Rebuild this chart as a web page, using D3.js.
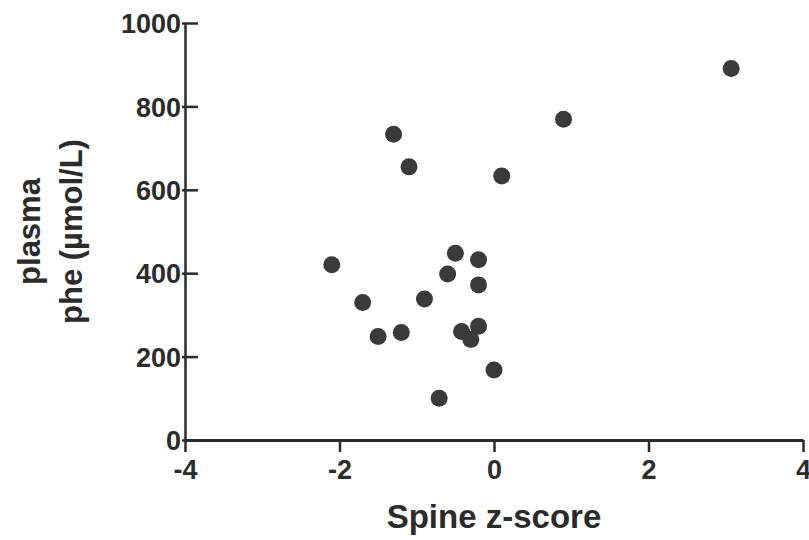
<!DOCTYPE html>
<html>
<head>
<meta charset="utf-8">
<script src="https://cdn.jsdelivr.net/npm/d3@7"></script>
<style>
  html, body { margin: 0; padding: 0; background: #fff; }
  svg text { font-family: "Liberation Sans", Arial, Helvetica, sans-serif; font-weight: bold; fill: #2b2b2b; }
</style>
</head>
<body>
<svg id="chart" width="809" height="540"></svg>
<script>
// Spine z-score vs plasma phenylalanine
const spineZ = [-2.1, -0.5, -0.2, -0.6, -0.2, -1.7, -0.9, -1.5, -1.2, -0.42, -0.2, -0.3, 0.0, -0.71, -1.3, -1.1, 0.1, 0.9, 3.07];
const plasmaPhe = [420, 448, 432, 398, 372, 330, 338, 248, 258, 260, 273, 241, 168, 100, 733, 655, 633, 769, 891];
const xTicks = [-4, -2, 0, 2, 4];
const yTicks = [0, 200, 400, 600, 800, 1000];
const xTitle = "Spine z-score";
const yTitleLines = ["plasma", "phe (µmol/L)"];

const svg = d3.select("#chart");
const ink = "#2b2b2b";
// plain hyphen for negative tick values
const fmt = d => String(d);

const x = d3.scaleLinear().domain([-4, 4]).range([185, 803]);
const y = d3.scaleLinear().domain([0, 1000]).range([440, 23]);

// y axis: ticks point into the plot
const yAxis = svg.append("g").attr("transform", `translate(${x(-4)},0)`)
  .call(d3.axisRight(y).tickValues(yTicks).tickSize(13).tickSizeOuter(0).tickFormat(fmt));
yAxis.select(".domain").attr("stroke", ink).attr("stroke-width", 2.5);
yAxis.selectAll(".tick line").attr("stroke", ink).attr("stroke-width", 2.5).attr("x1", -3);
yAxis.selectAll(".tick text")
  .attr("x", -4).attr("text-anchor", "end").attr("dy", "0.36em")
  .style("font-size", "27px").attr("fill", ink);

// x axis: ticks point down
const xAxis = svg.append("g").attr("transform", `translate(0,${y(0)})`)
  .call(d3.axisBottom(x).tickValues(xTicks).tickSize(12).tickSizeOuter(0).tickFormat(fmt));
xAxis.select(".domain").attr("stroke", ink).attr("stroke-width", 3);
xAxis.selectAll(".tick line").attr("stroke", ink).attr("stroke-width", 2.5);
xAxis.selectAll(".tick text")
  .attr("y", 20).attr("dy", "0.71em")
  .style("font-size", "27px").attr("fill", ink);

// axis titles
svg.append("text")
  .attr("x", (x(-4) + x(4)) / 2).attr("y", 528)
  .attr("text-anchor", "middle")
  .style("font-size", "33px")
  .text(xTitle);

const yMid = (y(0) + y(1000)) / 2;
svg.append("g").attr("transform", `translate(0,${yMid}) rotate(-90)`)
  .selectAll("text").data(yTitleLines).join("text")
  .attr("x", 0).attr("y", (d, i) => 40 + i * 42)
  .attr("text-anchor", "middle")
  .style("font-size", "31px")
  .text(d => d);

// data points
svg.append("g").selectAll("circle")
  .data(spineZ.map((v, i) => [v, plasmaPhe[i]]))
  .join("circle")
  .attr("cx", d => x(d[0]))
  .attr("cy", d => y(d[1]))
  .attr("r", 8.5)
  .attr("fill", "#3a3a3a");
</script>
</body>
</html>
